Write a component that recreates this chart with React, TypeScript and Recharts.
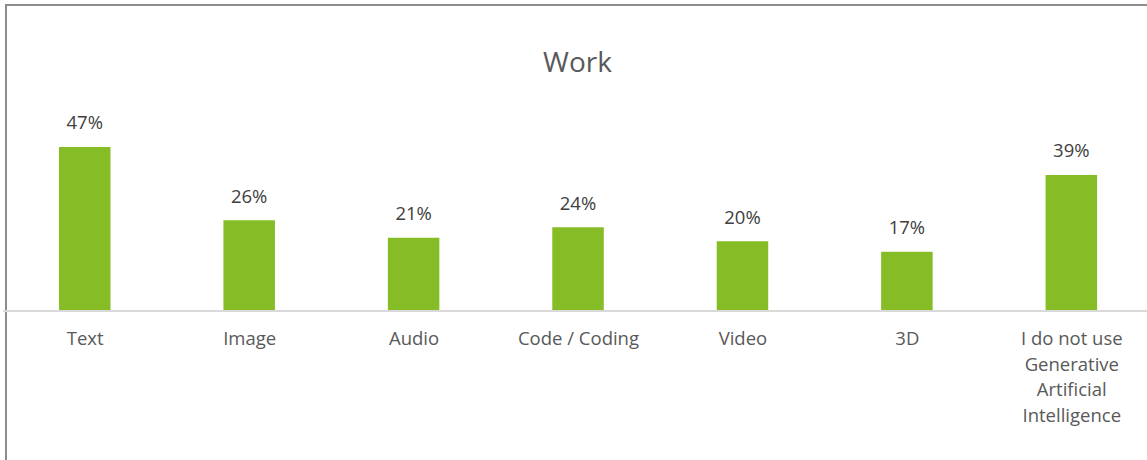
import React from "react";
import { BarChart, Bar, XAxis, YAxis, LabelList } from "recharts";

const categories = ["Text", "Image", "Audio", "Code / Coding", "Video", "3D", "I do not use Generative Artificial Intelligence"];
const tickLines: string[][] = [
  ["Text"],
  ["Image"],
  ["Audio"],
  ["Code / Coding"],
  ["Video"],
  ["3D"],
  ["I do not use", "Generative", "Artificial", "Intelligence"],
];
const values = [47, 26, 21, 24, 20, 17, 39];
const title = "Work";

const data = categories.map((c, i) => ({ name: c, value: values[i], idx: i }));

const FONT = "'Open Sans', sans-serif";

const Tick = (props: any) => {
  const { x, y, index } = props;
  const lines = tickLines[index] || [String(props.payload?.value)];
  return (
    <g>
      {lines.map((l, i) => (
        <text
          key={i}
          x={x}
          y={y + 34 + i * 25.7}
          textAnchor="middle"
          fill="#595959"
          fontSize={18.5}
          fontFamily={FONT}
        >
          {l}
        </text>
      ))}
    </g>
  );
};

const ValueLabel = (props: any) => {
  const { x, y, width, value } = props;
  return (
    <text
      x={x + width / 2}
      y={y - 17.5}
      textAnchor="middle"
      fill="#404040"
      fontSize={18.5}
      fontFamily={FONT}
    >
      {value}%
    </text>
  );
};

export default function App() {
  return (
    <div
      style={{
        position: "absolute",
        left: 0,
        top: 0,
        width: 1147,
        height: 460,
        overflow: "hidden",
        background: "#fff",
      }}
    >
      <div
        style={{
          position: "absolute",
          left: 5,
          top: 4,
          width: 1200,
          height: 500,
          border: "2px solid #8c8c8c",
          boxSizing: "border-box",
        }}
      />
      <div style={{ position: "absolute", left: 0, top: 0 }}>
        <BarChart
          width={1160}
          height={460}
          data={data}
          margin={{ top: 136.5, right: 6, bottom: 0, left: 3 }}
        >
          <text
            x={577.5}
            y={71.5}
            textAnchor="middle"
            fill="#595959"
            fontSize={28}
            fontFamily={FONT}
          >
            {title}
          </text>
          <YAxis hide domain={[0, 50]} />
          <XAxis
            dataKey="name"
            interval={0}
            height={149}
            tickLine={false}
            tickSize={0}
            tickMargin={0}
            axisLine={{ stroke: "#d9d9d9", strokeWidth: 2 }}
            tick={<Tick />}
          />
          <Bar dataKey="value" fill="#86bc25" barSize={51.5} isAnimationActive={false}>
            <LabelList dataKey="value" content={<ValueLabel />} />
          </Bar>
        </BarChart>
      </div>
    </div>
  );
}
